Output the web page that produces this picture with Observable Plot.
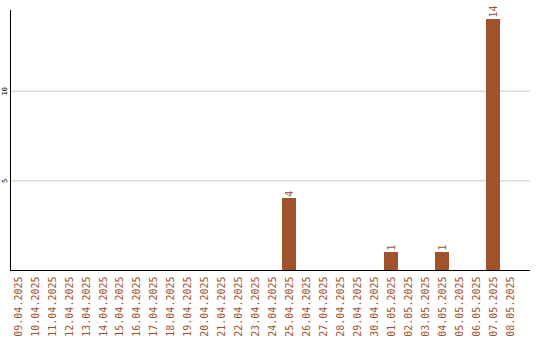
<!DOCTYPE html>
<html>
<head>
<meta charset="utf-8">
<script src="https://cdn.jsdelivr.net/npm/d3@7"></script>
<script src="https://cdn.jsdelivr.net/npm/@observablehq/plot@0.6"></script>
<style>
  html, body { margin: 0; padding: 0; background: #fff; }
  svg { display: block; }
</style>
</head>
<body>
<div id="chart"></div>
<script>
// Daily counts, 09.04.2025 – 08.05.2025
const dates = [
  "09.04.2025", "10.04.2025", "11.04.2025", "12.04.2025", "13.04.2025",
  "14.04.2025", "15.04.2025", "16.04.2025", "17.04.2025", "18.04.2025",
  "19.04.2025", "20.04.2025", "21.04.2025", "22.04.2025", "23.04.2025",
  "24.04.2025", "25.04.2025", "26.04.2025", "27.04.2025", "28.04.2025",
  "29.04.2025", "30.04.2025", "01.05.2025", "02.05.2025", "03.05.2025",
  "04.05.2025", "05.05.2025", "06.05.2025", "07.05.2025", "08.05.2025"
];
const counts = [
  0, 0, 0, 0, 0,
  0, 0, 0, 0, 0,
  0, 0, 0, 0, 0,
  0, 4, 0, 0, 0,
  0, 0, 1, 0, 0,
  1, 0, 0, 14, 0
];
const yTicks = [5, 10];

const rows = dates.map((d, i) => ({date: d, count: counts[i]}));
const nonZero = rows.filter(r => r.count > 0);

const barColor = "#a0522d";
const font = "DejaVu Sans Mono, monospace";

const chart = Plot.plot({
  width: 540,
  height: 340,
  marginLeft: 10,
  marginRight: 10,
  marginTop: 10,
  marginBottom: 70,
  style: {fontFamily: font, background: "#fff"},
  x: {domain: dates, range: [9.5, 518.5], round: false, paddingInner: 0.175, paddingOuter: 0.0875, axis: null},
  y: {domain: [0, 14.5], axis: null},
  marks: [
    Plot.ruleY(yTicks, {stroke: "#c8c8c8", strokeWidth: 1}),
    Plot.barY(rows, {x: "date", y: "count", fill: barColor, shapeRendering: "crispEdges"}),
    Plot.text(nonZero, {
      x: "date", y: "count", text: d => String(d.count),
      rotate: -90, textAnchor: "start", dy: -2,
      fill: barColor, fontSize: 10, fontFamily: font
    }),
    Plot.axisX({
      label: null, tickSize: 0, tickPadding: 6, tickRotate: -90,
      fill: barColor, fontSize: 10, fontFamily: font
    }),
    Plot.axisY({
      label: null, ticks: yTicks, tickSize: 0, tickPadding: 4, tickRotate: -90,
      fontSize: 7, fontFamily: font, fill: "#000"
    }),
    Plot.ruleY([0], {stroke: "#000", strokeWidth: 1}),
    Plot.frame({anchor: "left", stroke: "#000"})
  ]
});

document.getElementById("chart").appendChild(chart);
</script>
</body>
</html>
